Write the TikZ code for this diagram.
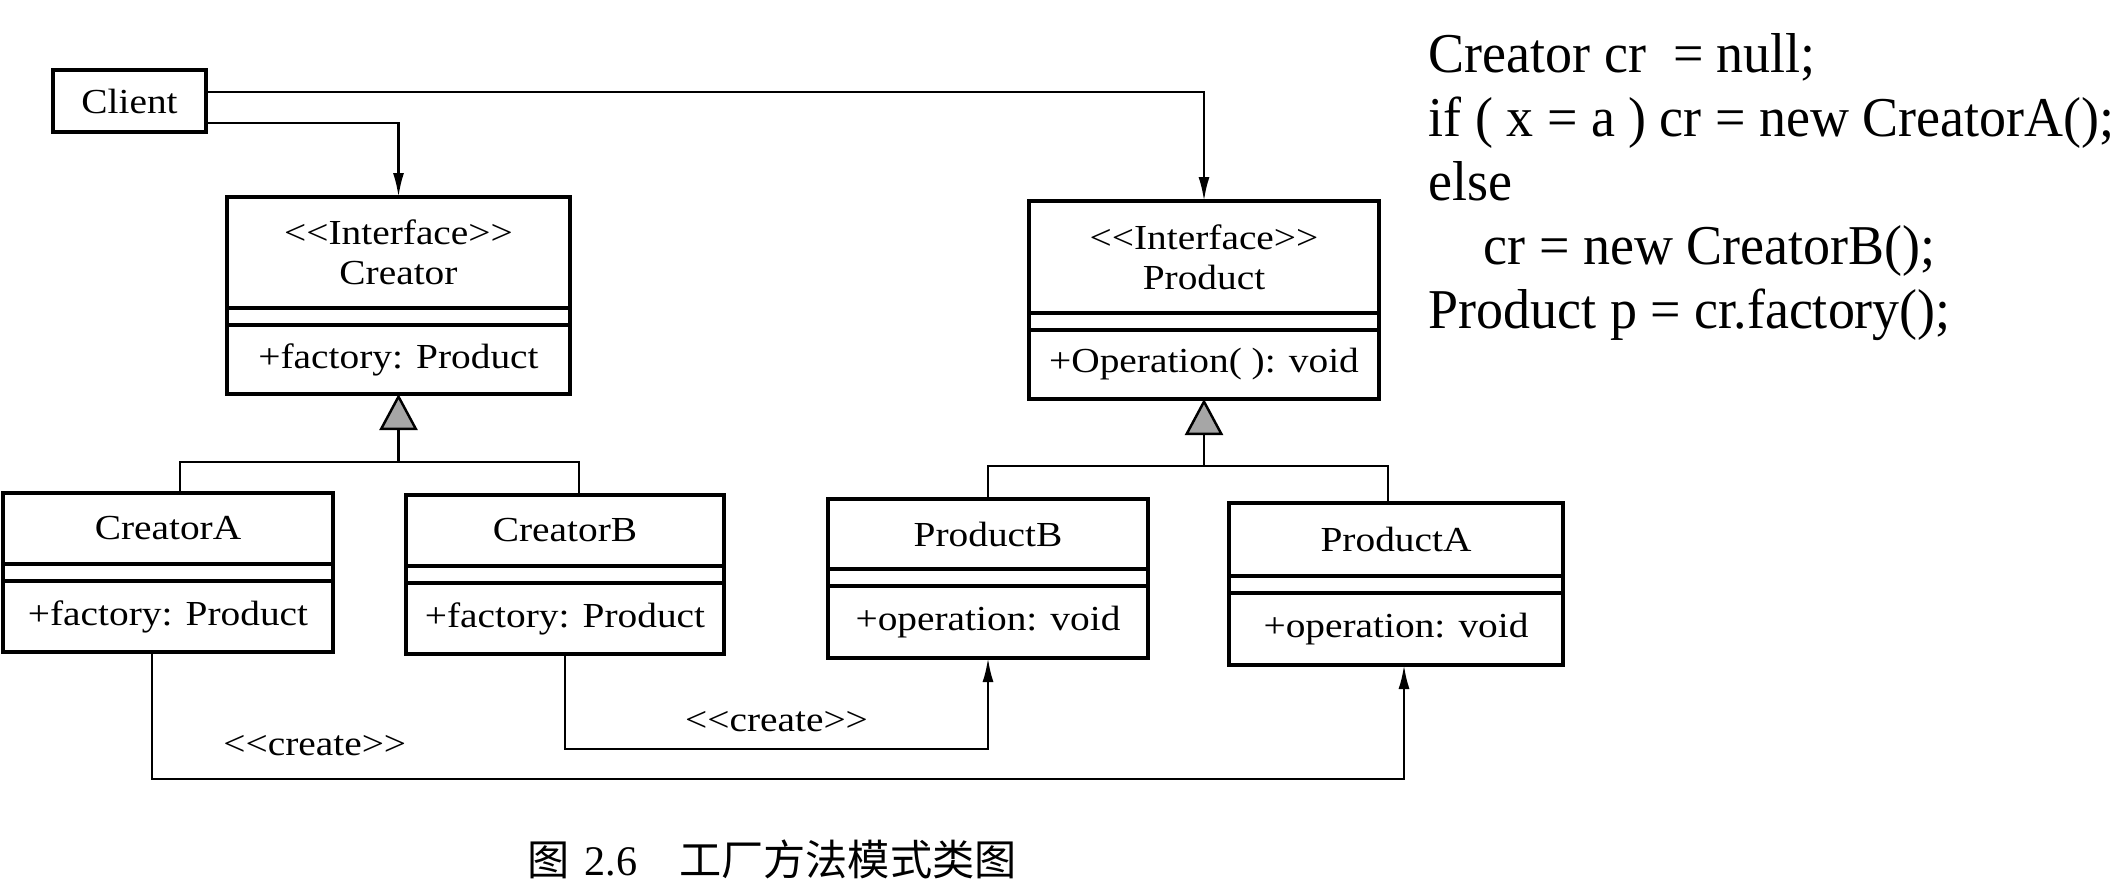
\documentclass[tikz,border=0pt]{standalone}
\usepackage{fontspec}
\setmainfont{Liberation Serif}
\newfontfamily\boxfont{Liberation Serif}[FakeStretch=1.12]
\newfontfamily\codefont{Liberation Serif}[FakeStretch=0.96]
\newfontfamily\cjk{Noto Sans CJK SC}
\usepackage{tikz}
\usetikzlibrary{positioning,arrows.meta}
\tikzstyle{frame}=[draw=black,line width=1.3pt]
\tikzstyle{cls}=[frame,outer sep=0pt,inner sep=0pt,align=center,font=\boxfont\fontsize{10}{11.4}\selectfont]
\tikzstyle{link}=[line width=0.7pt]
\tikzstyle{assoc}=[link,-{Latex[length=0.24cm,width=0.11cm]}]
\tikzstyle{inherit}=[link,-{Triangle[length=0.36cm,width=0.38cm,fill=black!35]}]
\tikzstyle{lbl}=[font=\boxfont\fontsize{10}{11.4}\selectfont]
\tikzstyle{code}=[anchor=base west,inner sep=0pt,font=\codefont\fontsize{16}{18}\selectfont]

\begin{document}
\begin{tikzpicture}
		\useasboundingbox (0,0) rectangle (21.28,-8.89);

		% client
		\node[cls,anchor=north west,minimum width=1.53cm,minimum height=0.62cm] (client) at (0.53,-0.70) {Client};

		% interfaces
		\node[cls,anchor=north west,minimum width=3.43cm,minimum height=1.11cm] (creator) at (2.27,-1.97) {<<Interface>>\\Creator};
		\node[cls,below=0.17cm of creator,minimum width=3.43cm,minimum height=0.69cm] (creatorOps) {+factory: Product};
		\node[cls,anchor=north west,minimum width=3.50cm,minimum height=1.12cm] (product) at (10.29,-2.01) {<<Interface>>\\Product};
		\node[cls,below=0.17cm of product,minimum width=3.50cm,minimum height=0.69cm] (productOps) {+Operation( ): void};

		% concrete classes
		\node[cls,anchor=north west,minimum width=3.30cm,minimum height=0.71cm] (creatorA) at (0.03,-4.93) {CreatorA};
		\node[cls,below=0.17cm of creatorA,minimum width=3.30cm,minimum height=0.71cm] (creatorAOps) {+factory: Product};
		\node[cls,anchor=north west,minimum width=3.18cm,minimum height=0.71cm] (creatorB) at (4.06,-4.95) {CreatorB};
		\node[cls,below=0.17cm of creatorB,minimum width=3.18cm,minimum height=0.71cm] (creatorBOps) {+factory: Product};
		\node[cls,anchor=north west,minimum width=3.20cm,minimum height=0.70cm] (productB) at (8.28,-4.99) {ProductB};
		\node[cls,below=0.17cm of productB,minimum width=3.20cm,minimum height=0.72cm] (productBOps) {+operation: void};
		\node[cls,anchor=north west,minimum width=3.34cm,minimum height=0.73cm] (productA) at (12.29,-5.03) {ProductA};
		\node[cls,below=0.17cm of productA,minimum width=3.34cm,minimum height=0.72cm] (productAOps) {+operation: void};

		% empty attribute compartments
		\foreach \cl in {creator,product,creatorA,creatorB,productB,productA}
			\draw[frame] (\cl.south west) -- (\cl Ops.north west)
				(\cl.south east) -- (\cl Ops.north east);

		% client uses
		\draw[assoc] ([yshift=0.09cm]client.east) -| (product.north);
		\draw[assoc] ([yshift=-0.22cm]client.east) -| (creator.north);

		% generalization
		\coordinate (crJoin) at ([yshift=-0.68cm]creatorOps.south);
		\draw[link] ([xshift=0.12cm]creatorA.north) |- (crJoin) -| ([xshift=0.14cm]creatorB.north);
		\draw[inherit] (crJoin) -- (creatorOps.south);
		\coordinate (prJoin) at ([yshift=-0.67cm]productOps.south);
		\draw[link] (productB.north) |- (prJoin) -| ([xshift=-0.08cm]productA.north);
		\draw[inherit] (prJoin) -- (productOps.south);

		% create
		\draw[assoc] (creatorBOps.south) -- ++(0,-0.95) -| (productBOps.south)
			node[lbl,pos=0.25,above,yshift=0.04cm] (createB) {<<create>>};
		\draw[assoc] ([xshift=-0.16cm]creatorAOps.south) -- ++(0,-1.27) -| ([xshift=0.08cm]productAOps.south)
			node[lbl,pos=0.065,above,yshift=0.1cm] (createA) {<<create>>};

		% code
		\foreach \ln [count=\i] in {{Creator cr\ \ = null;},{if ( x = a ) cr = new CreatorA();},{else},{\hspace*{0.55cm}cr = new CreatorB();},{Product p = cr.factory();}}
			\node[code] (line\i) at (14.28,{-0.72-0.64*(\i-1)}) {\ln};

		% caption
		\node (caption) at (7.72,-8.59) {\cjk\fontsize{12}{14}\selectfont 图\hspace{0.15cm}{\rmfamily 2.6}\hspace{0.42cm}工厂方法模式类图};
	\end{tikzpicture}
\end{document}
